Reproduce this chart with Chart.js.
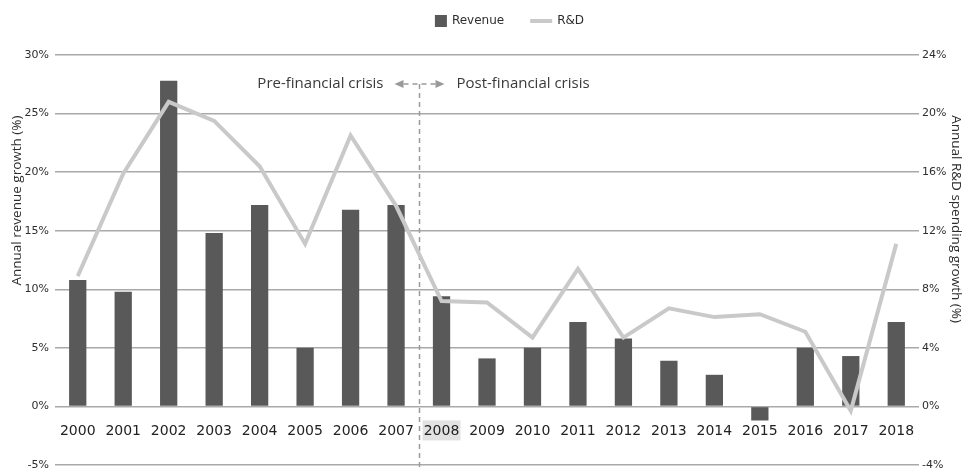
<!DOCTYPE html>
<html>
<head>
<meta charset="utf-8">
<script src="https://cdn.jsdelivr.net/npm/chart.js@4/dist/chart.umd.min.js"></script>
<style>
  html, body { margin: 0; padding: 0; background: #fff; }
  #wrap { width: 965px; height: 470px; position: relative; }
</style>
</head>
<body>
<div id="wrap"><canvas id="growthChart"></canvas></div>
<script>
const YEARS = ['2000', '2001', '2002', '2003', '2004', '2005', '2006', '2007', '2008', '2009',
               '2010', '2011', '2012', '2013', '2014', '2015', '2016', '2017', '2018'];
const REVENUE_GROWTH = [10.8, 9.8, 27.8, 14.8, 17.2, 5.0, 16.8, 17.2, 9.4, 4.1,
                        5.0, 7.2, 5.8, 3.9, 2.7, -1.2, 5.0, 4.3, 7.2];
const RD_GROWTH = [8.9, 15.9, 20.8, 19.5, 16.4, 11.1, 18.5, 13.7, 7.2, 7.1,
                   4.7, 9.4, 4.7, 6.7, 6.1, 6.3, 5.1, -0.3, 11.1];
const LEFT_RANGE = [-5, 30, 5];   // min, max, step
const RIGHT_RANGE = [-4, 24, 4];
const CRISIS_INDEX = 8;           // first post-crisis year
const PRE_LABEL = 'Pre-financial crisis';
const POST_LABEL = 'Post-financial crisis';
const LEFT_TITLE = 'Annual revenue growth (%)';
const RIGHT_TITLE = 'Annual R&D spending growth (%)';

const BAR_COLOR = '#595959';
const LINE_COLOR = '#c9c9c9';
const GRID_COLOR = '#a9a9a9';
const TEXT_COLOR = '#2e2e2e';
const TICK_FONT = { family: '"DejaVu Sans", Verdana, sans-serif', size: 11 };
const TITLE_FONT = '13.5px "Open Sans", Lato, sans-serif';

// legend row at the top, drawn by hand so the line swatch looks like a line
const legendRow = {
  id: 'legendRow',
  afterDraw(chart) {
    const ctx = chart.ctx;
    const ds = chart.data.datasets;
    ctx.save();
    ctx.font = '12px "DejaVu Sans", Verdana, sans-serif';
    ctx.textBaseline = 'middle';
    const y = 21;
    const w1 = ctx.measureText(ds[0].label).width;
    const w2 = ctx.measureText(ds[1].label).width;
    const total = 12 + 5 + w1 + 26 + 22 + 5 + w2;
    let x = chart.width / 2 + 27 - total / 2;
    ctx.fillStyle = ds[0].backgroundColor;
    ctx.fillRect(x, y - 6, 12, 12);
    x += 17;
    ctx.fillStyle = TEXT_COLOR;
    ctx.fillText(ds[0].label, x, y);
    x += w1 + 26;
    ctx.strokeStyle = ds[1].borderColor;
    ctx.lineWidth = 4;
    ctx.beginPath();
    ctx.moveTo(x, y);
    ctx.lineTo(x + 22, y);
    ctx.stroke();
    x += 27;
    ctx.fillText(ds[1].label, x, y);
    ctx.restore();
  }
};

// rotated axis titles, sitting a little above the middle of the plot
function drawTitle(ctx, text, x, y, angle) {
  ctx.save();
  ctx.font = TITLE_FONT;
  ctx.fillStyle = TEXT_COLOR;
  ctx.textAlign = 'center';
  ctx.textBaseline = 'middle';
  ctx.translate(x, y);
  ctx.rotate(angle);
  ctx.fillText(text, 0, 0);
  ctx.restore();
}

const axisTitles = {
  id: 'axisTitles',
  afterDraw(chart) {
    const a = chart.chartArea;
    const h = a.bottom - a.top;
    drawTitle(chart.ctx, LEFT_TITLE, 17, a.top + h * 0.355, -Math.PI / 2);
    drawTitle(chart.ctx, RIGHT_TITLE, chart.width - 9, a.top + h * 0.4, Math.PI / 2);
  }
};

// dashed divider between 2007 and 2008 with the two arrow labels
const crisisMarker = {
  id: 'crisisMarker',
  beforeDraw(chart) {
    // light highlight behind the first post-crisis year label
    const xs = chart.scales.x, ys = chart.scales.y;
    const cx = xs.getPixelForValue(CRISIS_INDEX);
    const cy = ys.getPixelForValue(0) + 24;
    const ctx = chart.ctx;
    ctx.save();
    ctx.fillStyle = '#e2e2e2';
    ctx.fillRect(cx - 19, cy - 10, 38, 20);
    ctx.restore();
  },
  beforeDatasetsDraw(chart) {
    const xs = chart.scales.x;
    const area = chart.chartArea;
    const ctx = chart.ctx;
    const x = Math.round((xs.getPixelForValue(CRISIS_INDEX - 1) + xs.getPixelForValue(CRISIS_INDEX)) / 2) + 0.5;
    const y = 84;
    ctx.save();
    ctx.strokeStyle = '#9a9a9a';
    ctx.lineWidth = 1.5;
    ctx.setLineDash([5, 4]);
    ctx.beginPath();
    ctx.moveTo(x, y);
    ctx.lineTo(x, area.bottom + 2);
    ctx.moveTo(x - 16, y);
    ctx.lineTo(x + 16, y);
    ctx.stroke();
    ctx.setLineDash([]);
    ctx.fillStyle = '#9a9a9a';
    ctx.beginPath();
    ctx.moveTo(x - 25, y);
    ctx.lineTo(x - 16, y - 4);
    ctx.lineTo(x - 16, y + 4);
    ctx.closePath();
    ctx.moveTo(x + 25, y);
    ctx.lineTo(x + 16, y - 4);
    ctx.lineTo(x + 16, y + 4);
    ctx.closePath();
    ctx.fill();
    ctx.font = '15px "Open Sans", Lato, sans-serif';
    ctx.fillStyle = '#3a3a3a';
    ctx.textBaseline = 'middle';
    ctx.textAlign = 'right';
    ctx.fillText(PRE_LABEL, x - 36, y);
    ctx.textAlign = 'left';
    ctx.fillText(POST_LABEL, x + 37, y);
    ctx.restore();
  }
};

const pct = v => v + '%';
const noEdgePadding = s => { s.paddingTop = 0; s.paddingBottom = 0; };

new Chart(document.getElementById('growthChart'), {
  type: 'bar',
  data: {
    labels: YEARS,
    datasets: [{
      label: 'Revenue',
      data: REVENUE_GROWTH,
      backgroundColor: BAR_COLOR,
      yAxisID: 'y',
      barPercentage: 0.38,
      categoryPercentage: 1,
      order: 1
    }, {
      label: 'R&D',
      type: 'line',
      data: RD_GROWTH,
      borderColor: LINE_COLOR,
      backgroundColor: LINE_COLOR,
      borderWidth: 4,
      pointRadius: 0,
      tension: 0,
      yAxisID: 'y1',
      order: 0
    }]
  },
  options: {
    responsive: true,
    maintainAspectRatio: false,
    animation: false,
    layout: { padding: { top: 55, bottom: 5, left: 0, right: 0 } },
    plugins: {
      legend: { display: false },
      tooltip: { enabled: false }
    },
    scales: {
      x: {
        position: { y: 0 },
        grid: { display: false, drawTicks: false },
        border: { display: false },
        ticks: { color: '#222', font: { family: '"DejaVu Sans", Verdana, sans-serif', size: 14 }, padding: 17, maxRotation: 0, autoSkip: false }
      },
      y: {
        position: 'left',
        min: LEFT_RANGE[0], max: LEFT_RANGE[1],
        grid: { color: GRID_COLOR, lineWidth: 1.5, drawTicks: false },
        border: { display: false },
        ticks: { stepSize: LEFT_RANGE[2], callback: pct, color: TEXT_COLOR, font: TICK_FONT, padding: 6 },
        afterFit(s) { s.width = 55; noEdgePadding(s); }
      },
      y1: {
        position: 'right',
        min: RIGHT_RANGE[0], max: RIGHT_RANGE[1],
        grid: { display: false, drawTicks: false },
        border: { display: false },
        ticks: { stepSize: RIGHT_RANGE[2], callback: pct, color: TEXT_COLOR, font: TICK_FONT, padding: 3 },
        afterFit(s) { s.width = 46; noEdgePadding(s); }
      }
    }
  },
  plugins: [legendRow, axisTitles, crisisMarker]
});
</script>
</body>
</html>
